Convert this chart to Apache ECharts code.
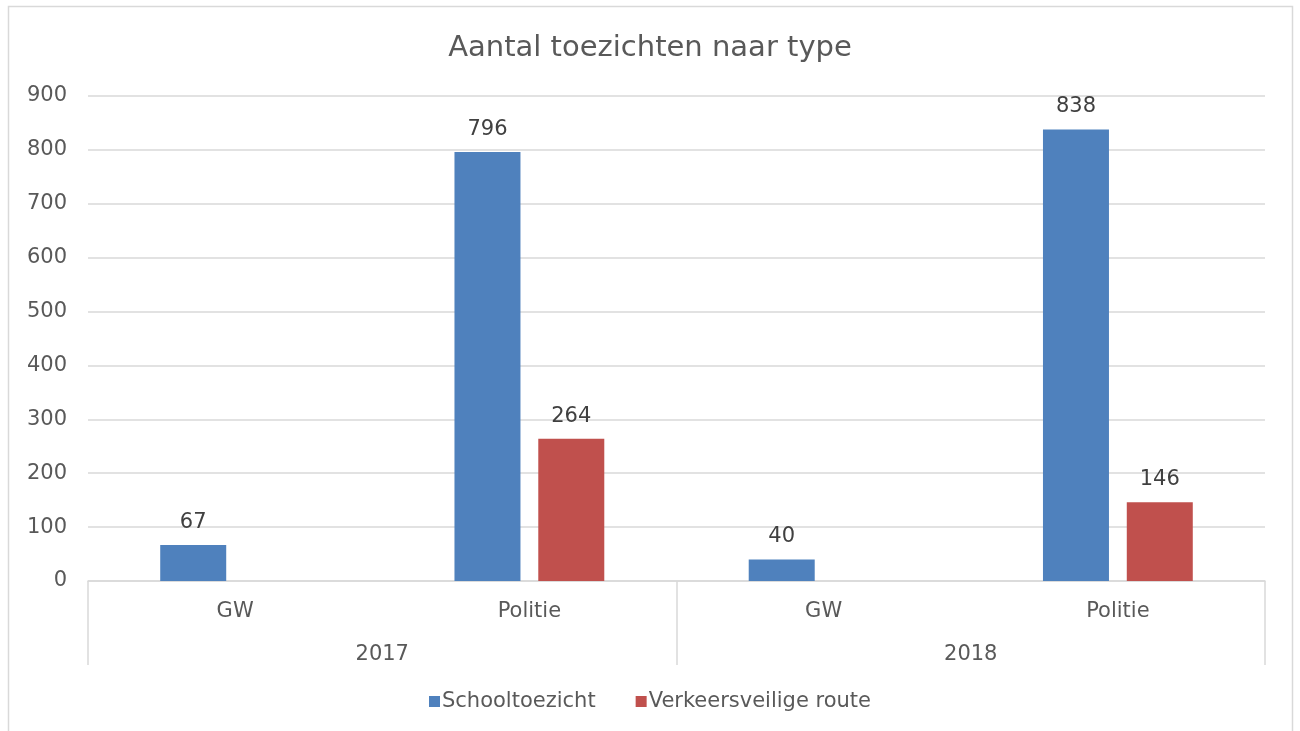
<!DOCTYPE html>
<html>
<head>
<meta charset="utf-8">
<script src="https://cdn.jsdelivr.net/npm/echarts@6/dist/echarts.min.js"></script>
<style>html,body{margin:0;padding:0;background:#fff}#c{width:1300px;height:731px}</style>
</head>
<body>
<div id="c"></div>
<script>
const subCategories = ['GW', 'Politie', 'GW', 'Politie'];
const years = ['2017', '2018'];
const schooltoezicht = [67, 796, 40, 838];
const verkeersveilig = [null, 264, null, 146];
const yTicks = [0, 900, 100];

const font = '"DejaVu Sans", Verdana, sans-serif';
const fs = 21;
const chart = echarts.init(document.getElementById('c'));
chart.setOption({
  animation: false,
  textStyle: { fontFamily: font },
  graphic: [{
    type: 'rect', shape: { x: 8.5, y: 6.5, width: 1284, height: 740 },
    style: { fill: 'none', stroke: '#d9d9d9', lineWidth: 1.5 }, silent: true
  }],
  title: {
    text: 'Aantal toezichten naar type', left: 'center', top: 29,
    textStyle: { fontFamily: font, fontSize: 29, fontWeight: 'normal', color: '#595959' }
  },
  legend: {
    bottom: 14, left: 'center', itemWidth: 11, itemHeight: 11, itemGap: 40,
    icon: 'rect',
    textStyle: { fontFamily: font, fontSize: fs, color: '#595959', padding: [0, 0, 0, -3] },
    data: ['Schooltoezicht', 'Verkeersveilige route']
  },
  grid: { left: 88, right: 35, top: 96, bottom: 150 },
  xAxis: [{
    type: 'category', data: subCategories, position: 'bottom',
    axisLine: { show: true, lineStyle: { color: '#d9d9d9', width: 1.5 } },
    axisTick: { show: false },
    axisLabel: { fontFamily: font, fontSize: fs, color: '#595959', margin: 20 }
  }, {
    type: 'category', data: years, position: 'bottom',
    axisLine: { show: false },
    axisTick: { show: true, alignWithLabel: false, length: 84, lineStyle: { color: '#d9d9d9', width: 1.5 } },
    axisLabel: { fontFamily: font, fontSize: fs, color: '#595959', margin: 63 }
  }],
  yAxis: {
    type: 'value', min: yTicks[0], max: yTicks[1], interval: yTicks[2],
    axisLine: { show: false }, axisTick: { show: false },
    splitLine: { lineStyle: { color: '#d9d9d9', width: 1.5 } },
    axisLabel: { fontFamily: font, fontSize: fs, color: '#595959', margin: 21, padding: [4, 0, 0, 0] }
  },
  series: [{
    name: 'Schooltoezicht', type: 'bar', data: schooltoezicht, xAxisIndex: 0,
    barWidth: 66, barGap: '27%',
    itemStyle: { color: '#4f81bd' },
    label: { show: true, position: 'top', distance: 12, fontFamily: font, fontSize: fs, color: '#404040' }
  }, {
    name: 'Verkeersveilige route', type: 'bar', data: verkeersveilig, xAxisIndex: 0,
    barWidth: 66,
    itemStyle: { color: '#c0504d' },
    label: { show: true, position: 'top', distance: 12, fontFamily: font, fontSize: fs, color: '#404040' }
  }]
});
</script>
</body>
</html>
